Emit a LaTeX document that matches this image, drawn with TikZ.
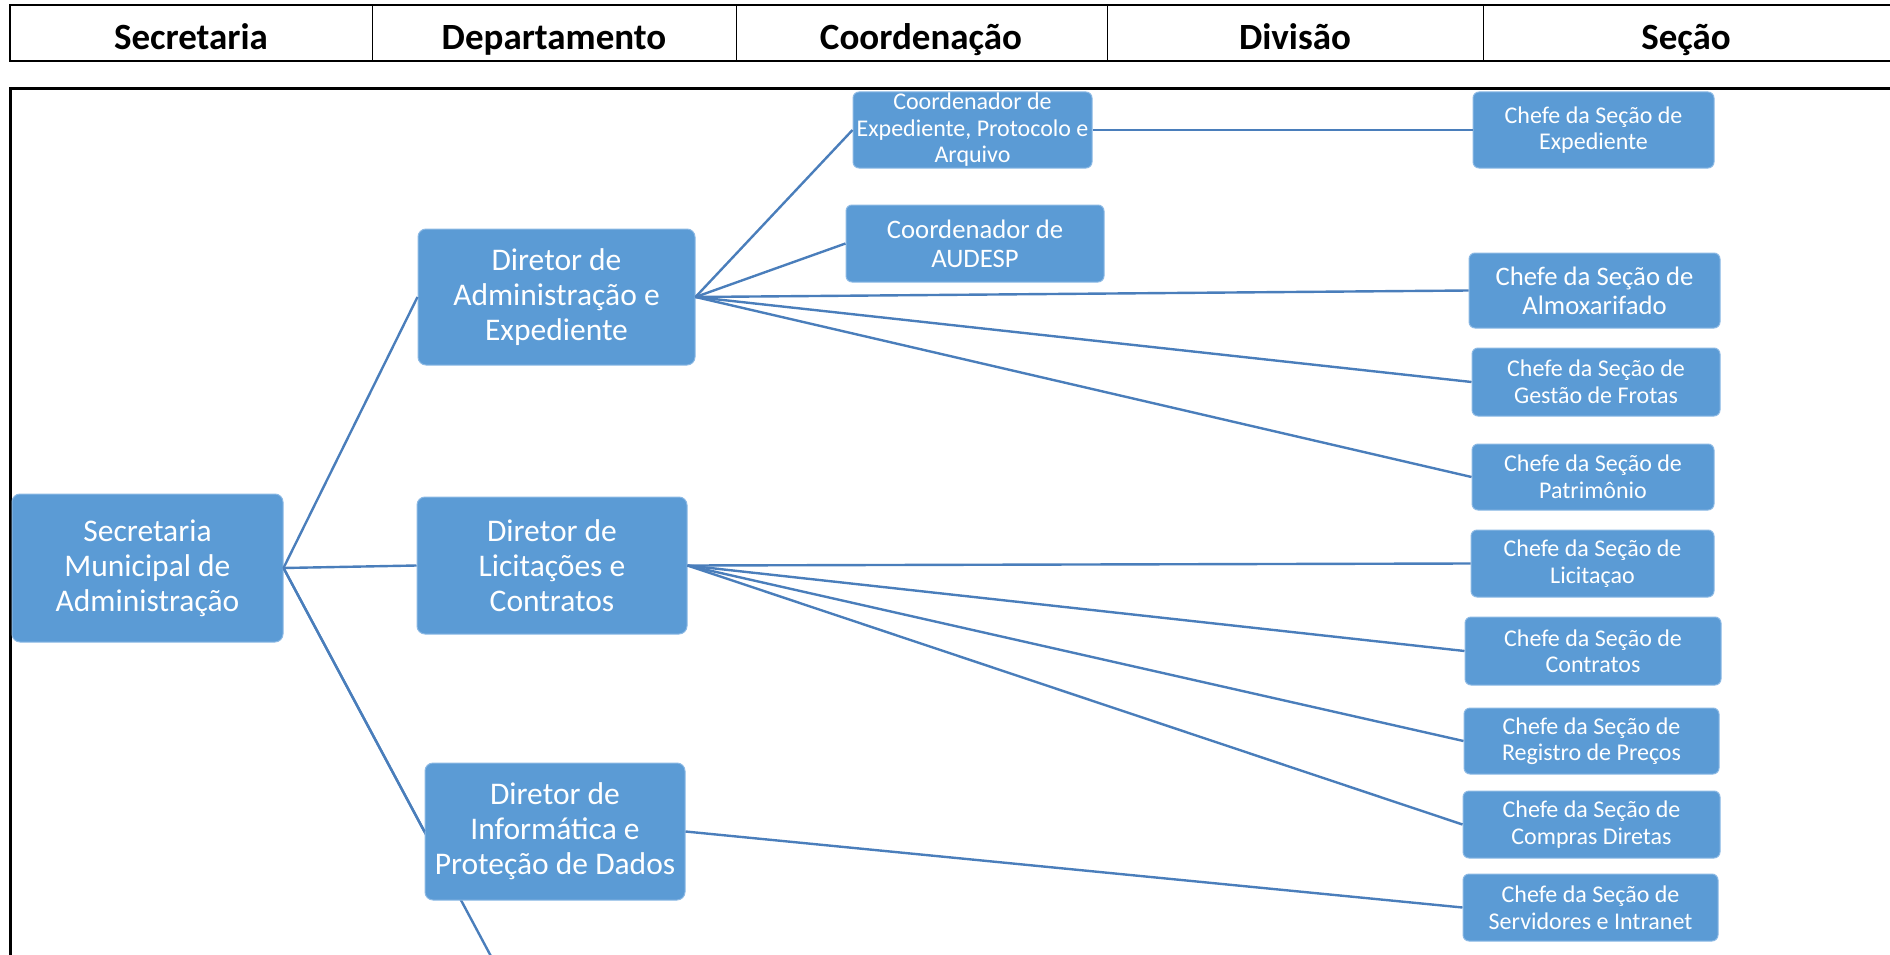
\documentclass[tikz,border=0pt]{standalone}
\usepackage{fontspec}
\setmainfont{Carlito}
\usetikzlibrary{backgrounds}
\definecolor{boxblue}{RGB}{91,155,213}
\definecolor{boxedge}{RGB}{140,185,228}
\definecolor{linkblue}{RGB}{74,126,187}

\begin{document}
\begin{tikzpicture}[x=1pt,y=-1pt]
\tikzstyle{unitbox}=[rounded corners=8, fill=boxblue, draw=boxedge, line width=1, text=white, align=center, inner sep=0]
\tikzstyle{bigbox}=[unitbox, font=\fontsize{31.5}{35}\selectfont]
\tikzstyle{midbox}=[unitbox, rounded corners=6, font=\fontsize{26.7}{29}\selectfont]
\tikzstyle{smallbox}=[unitbox, rounded corners=6, font=\fontsize{24}{26.5}\selectfont]
\tikzstyle{link}=[draw=linkblue, line width=2.4]
\tikzstyle{head}=[anchor=base, font=\fontsize{37}{40}\selectfont\bfseries]

\useasboundingbox (0,0) rectangle (1890,955);

\draw[line width=2.5] (10,5) rectangle (1900,61);
\draw[line width=1] (372,5) -- (372,61);
\draw[line width=1] (736,5) -- (736,61);
\draw[line width=1] (1107,5) -- (1107,61);
\draw[line width=1] (1483,5) -- (1483,61);
\node[head] (hsec) at (191,50) {Secretaria};
\node[head] (hdep) at (554,50) {Departamento};
\node[head] (hcoo) at (921,50) {Coordenação};
\node[head] (hdiv) at (1295,50) {Divisão};
\node[head] (hsco) at (1686,50) {Seção};

\draw[line width=3] (10,975) |- (1900,89);

\node[bigbox, minimum width=271, minimum height=148] (sma) at (147.5,568) {Secretaria\\Municipal de\\Administração};
\node[bigbox, minimum width=277, minimum height=136] (dae) at (556.5,297) {Diretor de\\Administração e\\Expediente};
\node[bigbox, minimum width=270, minimum height=137] (dlc) at (552,565.5) {Diretor de\\Licitações e\\Contratos};
\node[bigbox, minimum width=260, minimum height=137] (dip) at (555,831.5) {Diretor de\\Informática e\\Proteção de Dados};
\coordinate (dnext) at (501,975);

\node[smallbox, minimum width=239, minimum height=76] (cepa) at (972.5,130) {Coordenador de\\Expediente, Protocolo e\\Arquivo};
\node[midbox, minimum width=258, minimum height=77] (cau) at (975,243.5) {Coordenador de\\AUDESP};

\node[smallbox, minimum width=241, minimum height=76] (sexp) at (1593.5,130) {Chefe da Seção de\\Expediente};
\node[midbox, minimum width=251, minimum height=75] (salm) at (1594.5,290.5) {Chefe da Seção de\\Almoxarifado};
\node[smallbox, minimum width=248, minimum height=68] (sfro) at (1596,382) {Chefe da Seção de\\Gestão de Frotas};
\node[smallbox, minimum width=242, minimum height=66] (spat) at (1593,477) {Chefe da Seção de\\Patrimônio};
\node[smallbox, minimum width=243, minimum height=67] (slic) at (1592.5,563.5) {Chefe da Seção de\\Licitaçao};
\node[smallbox, minimum width=256, minimum height=68] (scon) at (1593,651) {Chefe da Seção de\\Contratos};
\node[smallbox, minimum width=255, minimum height=66] (srpr) at (1591.5,741) {Chefe da Seção de\\Registro de Preços};
\node[smallbox, minimum width=257, minimum height=67] (scdi) at (1591.5,824.5) {Chefe da Seção de\\Compras Diretas};
\node[smallbox, minimum width=255, minimum height=67] (ssin) at (1590.5,907.5) {Chefe da Seção de\\Servidores e Intranet};

\begin{pgfonlayer}{background}
\draw[link] (sma.east) -- (dnext);
\end{pgfonlayer}
\draw[link] (sma.east) -- (dae.west);
\draw[link] (sma.east) -- (dlc.west);
\draw[link] (sma.east) -- (dip.west);

\draw[link] (dae.east) -- (cepa.west);
\draw[link] (dae.east) -- (cau.west);
\draw[link] (dae.east) -- (salm.west);
\draw[link] (dae.east) -- (sfro.west);
\draw[link] (dae.east) -- (spat.west);
\draw[link] (cepa.east) -- (sexp.west);

\draw[link] (dlc.east) -- (slic.west);
\draw[link] (dlc.east) -- (scon.west);
\draw[link] (dlc.east) -- (srpr.west);
\draw[link] (dlc.east) -- (scdi.west);

\draw[link] (dip.east) -- (ssin.west);
\end{tikzpicture}
\end{document}
